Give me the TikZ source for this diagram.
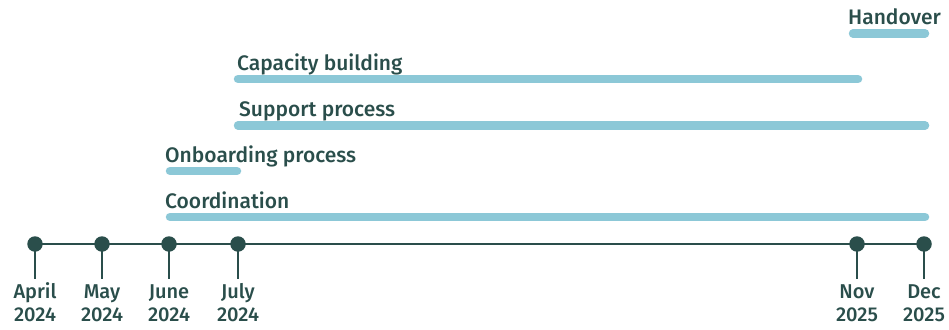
\documentclass[tikz,border=0pt]{standalone}
\usepackage{fontspec}
\setmainfont{Fira Sans}[UprightFont=* Medium]
\definecolor{dark}{HTML}{2A4E4B}
\definecolor{bar}{HTML}{8CC8D7}
\begin{document}
\begin{tikzpicture}[x=1pt,y=-1pt,
  barline/.style={line width=8.5pt,line cap=round,color=bar},
  axisline/.style={line width=1.8pt,color=dark},
  dotnode/.style={circle,fill=dark,inner sep=0pt,minimum size=15.5pt},
  lbl/.style={anchor=base west,inner sep=0pt,text=dark,font=\fontsize{21}{25}\selectfont},
  datelbl/.style={anchor=base,inner sep=0pt,text=dark,font=\fontsize{20}{24}\selectfont}]
\useasboundingbox (0,0) rectangle (949,329);
% bars
\coordinate (hs) at (853,33.5); \coordinate (he) at (925,33.5);
\coordinate (cs) at (238,79); \coordinate (ce) at (858,79);
\coordinate (ss) at (238,125.5); \coordinate (se) at (925,125.5);
\coordinate (os) at (170,171); \coordinate (oe) at (237,171);
\coordinate (ks) at (170,217); \coordinate (ke) at (925,217);
\draw[barline] (hs) -- (he);
\draw[barline] (cs) -- (ce);
\draw[barline] (ss) -- (se);
\draw[barline] (os) -- (oe);
\draw[barline] (ks) -- (ke);
\node[lbl] (lh) at (848,25) {Handover};
\node[lbl] (lc) at (237,70.5) {Capacity building};
\node[lbl] (ls) at (239,116) {Support process};
\node[lbl] (lo) at (165,162) {Onboarding process};
\node[lbl] (lk) at (165,208) {Coordination};
% timeline
\coordinate (t1) at (35,244); \coordinate (t2) at (102,244); \coordinate (t3) at (169,244);
\coordinate (t4) at (238,244); \coordinate (t5) at (857,244); \coordinate (t6) at (924,244);
\draw[axisline] (t1) -- (t6);
\foreach \n/\x in {t1/35,t2/102,t3/169,t4/238,t5/857,t6/924}{
  \coordinate (\n b) at (\x,279);
  \draw[axisline] (\n) -- (\n b);
  \node[dotnode] at (\n) {};
}
\node[datelbl] (m1) at (35,298) {April};  \node[datelbl] (y1) at (35,321) {2024};
\node[datelbl] (m2) at (102,298) {May};   \node[datelbl] (y2) at (102,321) {2024};
\node[datelbl] (m3) at (169,298) {June};  \node[datelbl] (y3) at (169,321) {2024};
\node[datelbl] (m4) at (238,298) {July};  \node[datelbl] (y4) at (238,321) {2024};
\node[datelbl] (m5) at (857,298) {Nov};   \node[datelbl] (y5) at (857,321) {2025};
\node[datelbl] (m6) at (924,298) {Dec};   \node[datelbl] (y6) at (924,321) {2025};
\end{tikzpicture}
\end{document}
